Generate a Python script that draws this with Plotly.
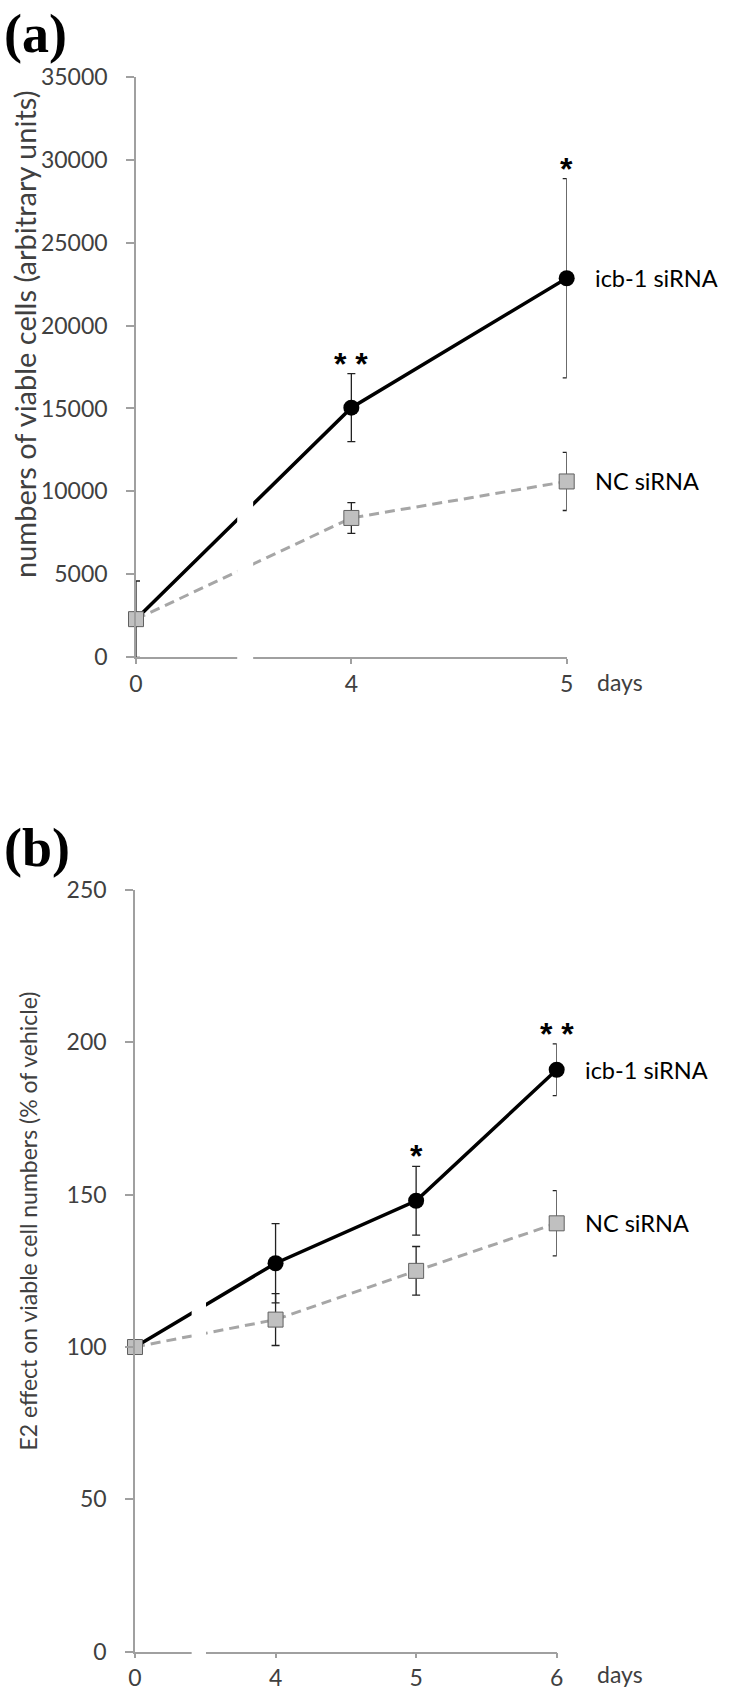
import plotly.graph_objects as go

W, H = 731, 1690

# ---------- data ----------
days_a = ["0", "4", "5"]
icb1_a = [2300, 15050, 22850]
icb1_a_err = [2300, 2050, 6000]
nc_a = [2300, 8400, 10600]
nc_a_err = [0, 930, 1750]
sig_a = ["", "* *", "*"]

days_b = ["0", "4", "5", "6"]
icb1_b = [100, 127.5, 148, 191]
icb1_b_err = [0, 13, 11.3, 8.5]
nc_b = [100, 109, 125, 140.6]
nc_b_err = [0, 8.5, 8, 10.7]
sig_b = ["", "", "*", "* *"]

yticks_a = [0, 5000, 10000, 15000, 20000, 25000, 30000, 35000]
yticks_b = [0, 50, 100, 150, 200, 250]

FONT = "Lato"
TICKC = "#404040"
AXC = "#a0a0a0"

pos_a = list(range(len(days_a)))
pos_b = list(range(len(days_b)))

fig = go.Figure()


def add_panel(pos, icb, icb_err, nc, nc_err, xa, ya):
    fig.add_trace(go.Scatter(
        x=pos, y=icb, xaxis=xa, yaxis=ya, mode="lines+markers",
        line=dict(color="black", width=3.5),
        marker=dict(symbol="circle", size=16, color="black"),
        error_y=dict(type="data", array=icb_err, visible=True,
                     color="#222222", thickness=1.3, width=4),
        cliponaxis=False, showlegend=False, name="icb-1 siRNA"))
    fig.add_trace(go.Scatter(
        x=pos, y=nc, xaxis=xa, yaxis=ya, mode="lines+markers",
        line=dict(color="#a6a6a6", width=3, dash="10px,6px"),
        marker=dict(symbol="square", size=15, color="#c0c0c0",
                    line=dict(color="#606060", width=1)),
        error_y=dict(type="data", array=nc_err, visible=True,
                     color="#222222", thickness=1.3, width=4),
        cliponaxis=False, showlegend=False, name="NC siRNA"))


add_panel(pos_a, icb1_a, icb1_a_err, nc_a, nc_a_err, "x", "y")
add_panel(pos_b, icb1_b, icb1_b_err, nc_b, nc_b_err, "x2", "y2")


def px_x(p):
    return p / W


def px_y(p):
    return 1 - p / H


common_x = dict(showline=True, linecolor=AXC, linewidth=1.5,
                ticks="outside", ticklen=5, tickcolor=AXC, tickwidth=1.5,
                showgrid=False, zeroline=False, automargin=False,
                tickfont=dict(family=FONT, size=23, color=TICKC),
                ticklabelstandoff=0)
common_y = dict(showline=True, linecolor=AXC, linewidth=1.5,
                ticks="outside", ticklen=8, tickcolor=AXC, tickwidth=1.5,
                showgrid=False, zeroline=False, tickformat="d", automargin=False,
                tickfont=dict(family=FONT, size=23, color=TICKC),
                ticklabelstandoff=14)

fig.update_layout(
    width=W, height=H, margin=dict(l=0, r=0, t=0, b=0, pad=0, autoexpand=False),
    paper_bgcolor="white", plot_bgcolor="white",
    xaxis=dict(domain=[px_x(136), px_x(566.7)], range=[0, len(days_a) - 1],
               tickvals=pos_a, ticktext=days_a, anchor="y", **common_x),
    yaxis=dict(domain=[px_y(657.3), px_y(76.7)], range=[0, 35000],
               tickvals=yticks_a, anchor="x", **common_y),
    xaxis2=dict(domain=[px_x(135), px_x(556.7)], range=[0, len(days_b) - 1],
                tickvals=pos_b, ticktext=days_b, anchor="y2", **common_x),
    yaxis2=dict(domain=[px_y(1651.7), px_y(890)], range=[0, 250],
                tickvals=yticks_b, anchor="x2", **common_y),
)

# axis breaks (white bands)
fig.add_shape(type="rect", xref="x", yref="y domain", x0=0.47, x1=0.544,
              y0=-0.012, y1=1.0, fillcolor="white", line_width=0, layer="above")
fig.add_shape(type="rect", xref="x2", yref="y2 domain", x0=0.403, x1=0.505,
              y0=-0.012, y1=1.0, fillcolor="white", line_width=0, layer="above")

ann = []
# panel letters
ann.append(dict(text="<b>(a)</b>", xref="paper", yref="paper", x=px_x(2), y=px_y(34),
                xanchor="left", yanchor="middle", showarrow=False,
                font=dict(family="Liberation Serif", size=54, color="black")))
ann.append(dict(text="<b>(b)</b>", xref="paper", yref="paper", x=px_x(2), y=px_y(848),
                xanchor="left", yanchor="middle", showarrow=False,
                font=dict(family="Liberation Serif", size=54, color="black")))
# y titles
ann.append(dict(text="numbers of viable cells (arbitrary units)", xref="paper", yref="paper",
                x=px_x(24), y=px_y(334), textangle=-90, showarrow=False,
                xanchor="center", yanchor="middle",
                font=dict(family=FONT, size=29, color=TICKC)))
ann.append(dict(text="E2 effect on viable cell numbers (% of vehicle)", xref="paper", yref="paper",
                x=px_x(27.5), y=px_y(1221), textangle=-90, showarrow=False,
                xanchor="center", yanchor="middle",
                font=dict(family=FONT, size=23, color=TICKC)))
# days labels
ann.append(dict(text="days", xref="paper", yref="paper", x=px_x(595), y=px_y(682),
                xanchor="left", yanchor="middle", showarrow=False,
                font=dict(family=FONT, size=23, color=TICKC)))
ann.append(dict(text="days", xref="paper", yref="paper", x=px_x(595), y=px_y(1674),
                xanchor="left", yanchor="middle", showarrow=False,
                font=dict(family=FONT, size=23, color=TICKC)))

# series labels
for pos, icb, nc, xr, yr in [(pos_a, icb1_a, nc_a, "x", "y"),
                             (pos_b, icb1_b, nc_b, "x2", "y2")]:
    ann.append(dict(text="icb-1 siRNA", xref=xr, yref=yr, x=pos[-1], y=icb[-1],
                    xanchor="left", yanchor="middle", xshift=26, showarrow=False,
                    font=dict(family=FONT, size=23.5, color="black")))
    ann.append(dict(text="NC siRNA", xref=xr, yref=yr, x=pos[-1], y=nc[-1],
                    xanchor="left", yanchor="middle", xshift=26, showarrow=False,
                    font=dict(family=FONT, size=23.5, color="black")))

# significance marks
for pos, icb, err, sig, xr, yr in [(pos_a, icb1_a, icb1_a_err, sig_a, "x", "y"),
                                   (pos_b, icb1_b, icb1_b_err, sig_b, "x2", "y2")]:
    for p, v, e, s in zip(pos, icb, err, sig):
        if s:
            ann.append(dict(text="<b>" + s + "</b>", xref=xr, yref=yr, x=p, y=v + e,
                            xanchor="center", yanchor="bottom", yshift=-10, showarrow=False,
                            font=dict(family="Liberation Sans", size=32, color="black")))

fig.update_layout(annotations=ann)
fig.write_html("out.html", config={"displayModeBar": False},
               post_script="document.body.style.margin='0';")
